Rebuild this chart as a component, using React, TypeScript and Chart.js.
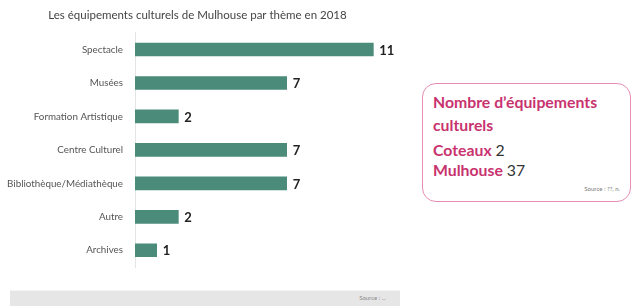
import React, { useEffect, useRef } from "react";
import { Chart, registerables } from "chart.js";

Chart.register(...registerables);

const categories = [
  "Spectacle",
  "Musées",
  "Formation Artistique",
  "Centre Culturel",
  "Bibliothèque/Médiathèque",
  "Autre",
  "Archives",
];
const counts = [11, 7, 2, 7, 7, 2, 1];
const chartTitle = "Les équipements culturels de Mulhouse par thème en 2018";
const boxTitle = ["Nombre d’équipements", "culturels"];
const boxLabels = ["Coteaux", "Mulhouse"];
const boxValues = [2, 37];

const FONT = "Lato, 'Open Sans', sans-serif";

const valueLabels = {
  id: "valueLabels",
  afterDatasetsDraw(chart: any) {
    const ctx = chart.ctx;
    const meta = chart.getDatasetMeta(0);
    ctx.save();
    ctx.font = `bold 13px ${FONT}`;
    ctx.fillStyle = "#222";
    ctx.textAlign = "left";
    ctx.textBaseline = "middle";
    meta.data.forEach((bar: any, i: number) => {
      ctx.fillText(String(counts[i]), bar.x + 6, bar.y + 1);
    });
    ctx.restore();
  },
};

export default function App() {
  const ref = useRef<HTMLCanvasElement>(null);
  useEffect(() => {
    if (!ref.current) return;
    const chart = new Chart(ref.current, {
      type: "bar",
      data: {
        labels: categories,
        datasets: [
          {
            data: counts,
            backgroundColor: "#4b8b79",
            barThickness: 13,
          },
        ],
      },
      options: {
        indexAxis: "y",
        animation: false,
        responsive: false,
        layout: { padding: { left: 0, right: 15, bottom: 18, top: 0 } },
        plugins: {
          legend: { display: false },
          tooltip: { enabled: false },
          title: {
            display: true,
            text: chartTitle,
            color: "#444",
            font: { family: FONT, size: 11.5, weight: "normal" },
            padding: { top: 8, bottom: 11 },
          },
        },
        scales: {
          x: { display: false, min: 0, max: 12 },
          y: {
            grid: { display: false },
            border: { display: true, color: "#e4e4e4", width: 1 },
            ticks: {
              color: "#555",
              padding: 4,
              font: { family: FONT, size: 9.8 },
            },
            afterFit(scale: any) {
              scale.width = 135;
            },
          },
        },
      },
      plugins: [valueLabels],
    });
    return () => chart.destroy();
  }, []);

  return (
    <div
      style={{
        position: "absolute",
        left: 0,
        top: 0,
        width: 633,
        height: 306,
        background: "#fff",
        fontFamily: FONT,
        overflow: "hidden",
      }}
    >
      <canvas
        ref={ref}
        width={410}
        height={285}
        style={{ position: "absolute", left: 0, top: 0, width: 410, height: 285 }}
      />
      <div
        style={{
          position: "absolute",
          left: 10,
          top: 290,
          width: 390,
          height: 16,
          background: "#e6e6e6",
          borderTop: "1px solid #f4f4f4",
        }}
      >
        <span
          style={{
            position: "absolute",
            right: 14,
            top: 3,
            fontSize: 6,
            color: "#888",
          }}
        >
          Source : ...
        </span>
      </div>
      <div
        style={{
          position: "absolute",
          left: 422,
          top: 83,
          width: 207,
          height: 117,
          border: "1.5px solid #e58db3",
          borderRadius: 14,
          boxSizing: "content-box",
        }}
      >
        <div
          style={{
            position: "absolute",
            left: 10,
            top: 6,
            color: "#c8336f",
            fontWeight: 700,
            fontSize: 15.8,
            lineHeight: "23px",
            whiteSpace: "nowrap",
          }}
        >
          {boxTitle[0]}
          <br />
          {boxTitle[1]}
        </div>
        <div
          style={{
            position: "absolute",
            left: 10,
            top: 56,
            fontWeight: 700,
            fontSize: 15.8,
            lineHeight: "20px",
            whiteSpace: "nowrap",
          }}
        >
          {boxLabels.map((l, i) => (
            <div key={l}>
              <span style={{ color: "#c8336f" }}>{l}</span>{" "}
              <span style={{ color: "#333", fontWeight: 400 }}>{boxValues[i]}</span>
            </div>
          ))}
        </div>
        <span
          style={{
            position: "absolute",
            right: 10,
            top: 101,
            fontSize: 6,
            color: "#777",
          }}
        >
          Source : ??, n.
        </span>
      </div>
    </div>
  );
}
